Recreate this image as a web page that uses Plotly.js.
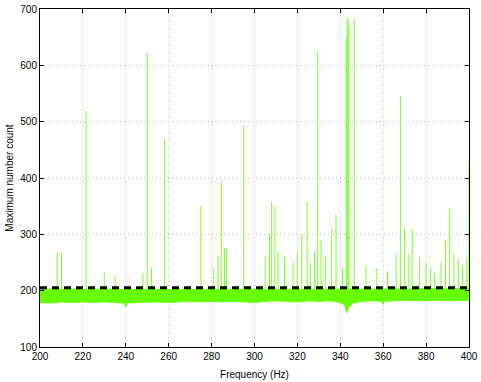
<!DOCTYPE html>
<html>
<head>
<meta charset="utf-8">
<script src="https://cdn.plot.ly/plotly-3.0.1.min.js"></script>
<style>
  html, body { margin: 0; padding: 0; background: #fff; }
  #plot { width: 481px; height: 382px; }
</style>
</head>
<body>
<div id="plot"></div>
<script>
// noise band envelope (Hz, counts)
const bandFreq = [200, 205, 210, 215, 220, 225, 230, 235, 239.4, 240, 240.6, 245, 250, 255, 260, 265, 270, 275, 280, 285, 290, 295, 300, 305, 310, 315, 320, 325, 330, 335, 340, 342, 342.6, 343, 343.5, 344.2, 346, 350, 355, 359.5, 360, 360.5, 365, 370, 375, 380, 385, 390, 395, 400];
const bandLow  = [179, 178, 180, 179, 180, 179, 180, 179, 178, 171, 178, 179, 180, 180, 179, 180, 181, 180, 181, 180, 181, 180, 179, 181, 182, 181, 180, 182, 181, 182, 179, 175, 166, 161, 167, 172, 178, 181, 182, 181, 176, 181, 182, 183, 182, 183, 183, 182, 183, 183];
const bandHigh = [202, 203, 202, 203, 202, 203, 202, 203, 202, 202, 203, 202, 203, 203, 202, 203, 202, 203, 203, 202, 203, 203, 202, 203, 203, 202, 203, 203, 202, 203, 203, 203, 203, 203, 203, 203, 203, 203, 203, 203, 203, 203, 203, 203, 203, 204, 203, 203, 204, 204];

// spikes above the band
const spikeFreq = [208, 210, 221.5, 230, 235, 248, 250, 252, 258, 275, 281, 283, 284.5, 286, 287, 295, 305, 307, 308, 309.5, 311, 314, 318, 320, 322, 324.5, 326, 328, 329.5, 331, 333, 336, 338, 341, 342.8, 343.2, 343.6, 344, 346.5, 352, 357, 362, 366, 368, 370, 372, 373.5, 377, 380, 382, 384, 387, 389, 391, 393, 395, 397, 399, 400];
const spikeHigh = [268, 268, 520, 232, 226, 230, 622, 240, 470, 350, 240, 262, 395, 275, 275, 493, 260, 300, 358, 350, 270, 260, 250, 265, 300, 358, 250, 270, 625, 290, 262, 310, 336, 240, 650, 682, 685, 670, 682, 245, 240, 235, 265, 545, 310, 265, 310, 260, 250, 240, 230, 250, 290, 345, 265, 255, 245, 258, 430];

const threshold = 205;

const sx = [], sy = [];
spikeFreq.forEach((f, i) => { sx.push(f, f, null); sy.push(198, spikeHigh[i], null); });

const green = 'rgb(102,255,0)';
const traces = [
  { x: bandFreq, y: bandLow, mode: 'lines', line: { color: green, width: 1 } },
  { x: bandFreq, y: bandHigh, mode: 'lines', fill: 'tonexty', fillcolor: green, line: { color: green, width: 1 } },
  { x: sx, y: sy, mode: 'lines', line: { color: 'rgb(120,255,40)', width: 1 } },
  { x: [200, 400], y: [threshold, threshold], mode: 'lines', line: { color: '#000', width: 3, dash: '7px,5px' } }
];

const font = { family: 'Liberation Sans, Arial, sans-serif', size: 10, color: '#000' };
const axisCommon = {
  showline: true, linecolor: '#000', linewidth: 1, mirror: 'ticks',
  ticks: 'inside', ticklen: 4, tickcolor: '#000',
  showgrid: true, gridcolor: '#bdbdbd', griddash: '1px,3px', gridwidth: 1,
  zeroline: false, tickfont: font
};
const layout = {
  width: 481, height: 382,
  margin: { l: 40, r: 12, t: 9, b: 35 },
  paper_bgcolor: '#fff', plot_bgcolor: '#fff',
  showlegend: false, font: font,
  xaxis: Object.assign({}, axisCommon, { range: [200, 400], dtick: 20, title: { text: 'Frequency (Hz)', font: font, standoff: 9 } }),
  yaxis: Object.assign({}, axisCommon, { range: [100, 700], dtick: 100, title: { text: 'Maximum number count', font: font, standoff: 4 } })
};
Plotly.newPlot('plot', traces, layout, { staticPlot: true });
</script>
</body>
</html>
